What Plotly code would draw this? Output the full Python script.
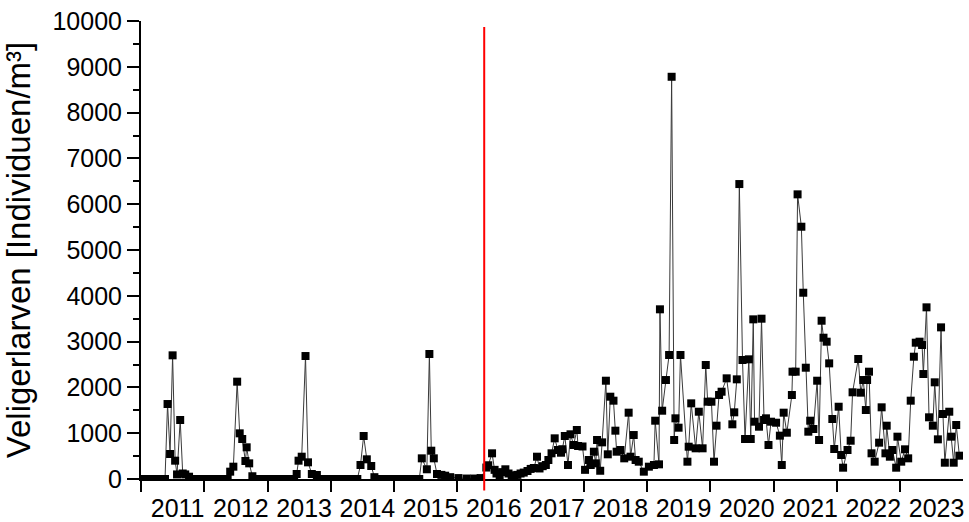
import pandas as pd
import plotly.graph_objects as go

# ---- data (decimal year of sampling, larvae per m³) ----
years_early = [
    2011.00, 2011.08, 2011.17, 2011.25, 2011.33, 2011.38,
    2011.42, 2011.46, 2011.50, 2011.54, 2011.57, 2011.62, 2011.66, 2011.70, 2011.76,
    2011.83, 2011.92, 2012.00, 2012.08, 2012.17, 2012.25, 2012.33, 2012.37,
    2012.41, 2012.46, 2012.52, 2012.56, 2012.60, 2012.65, 2012.67, 2012.71, 2012.76,
    2012.83, 2012.92, 2013.00, 2013.08, 2013.17, 2013.25, 2013.33, 2013.42,
    2013.46, 2013.49, 2013.54, 2013.60, 2013.64, 2013.70, 2013.78,
    2013.85, 2013.92, 2014.00, 2014.08, 2014.17, 2014.25, 2014.33, 2014.42,
    2014.47, 2014.52, 2014.57, 2014.64, 2014.69,
    2014.75, 2014.83, 2014.92, 2015.00, 2015.08, 2015.17, 2015.25, 2015.33, 2015.40,
    2015.44, 2015.52, 2015.56, 2015.59, 2015.63, 2015.68, 2015.75, 2015.81, 2015.89,
    2016.02, 2016.15, 2016.27, 2016.37,
]
larvae_early = [
    0, 0, 0, 0, 0, 0,
    1637, 546, 2700, 400, 100, 1288, 120, 100, 50,
    0, 0, 0, 0, 0, 0, 0, 0,
    160, 269, 2125, 997, 873, 393, 692, 342, 60,
    0, 0, 0, 0, 0, 0, 0, 0,
    109, 400, 487, 2685, 364, 109, 87,
    0, 0, 0, 0, 0, 0, 0, 0,
    306, 939, 430, 284, 40,
    0, 0, 0, 0, 0, 0, 0, 0, 0,
    451, 212, 2729, 618, 451, 109, 90, 72, 40,
    20, 10, 10, 20,
]

years_late = [
    2016.46, 2016.49, 2016.55, 2016.59, 2016.62, 2016.67, 2016.71, 2016.76, 2016.81, 2016.86,
    2016.90, 2016.95, 2017.00, 2017.05, 2017.11, 2017.16, 2017.21, 2017.26, 2017.30, 2017.35,
    2017.40, 2017.44, 2017.49, 2017.54, 2017.59, 2017.64, 2017.66, 2017.70, 2017.75, 2017.79,
    2017.84, 2017.89, 2017.91, 2017.98, 2018.02, 2018.08, 2018.11, 2018.16, 2018.19, 2018.21,
    2018.26, 2018.29, 2018.35, 2018.38, 2018.42, 2018.47, 2018.50, 2018.52, 2018.58, 2018.64,
    2018.71, 2018.74, 2018.79, 2018.82, 2018.87, 2018.95, 2019.03, 2019.11, 2019.13, 2019.19,
    2019.205, 2019.24, 2019.30, 2019.35, 2019.39, 2019.43, 2019.45, 2019.50, 2019.53, 2019.64,
    2019.66, 2019.70, 2019.77, 2019.82, 2019.88, 2019.93, 2019.96, 2020.02, 2020.06, 2020.10,
    2020.14, 2020.18, 2020.26, 2020.35, 2020.38, 2020.42, 2020.46, 2020.51, 2020.55, 2020.61,
    2020.64, 2020.68, 2020.70, 2020.77, 2020.81, 2020.85, 2020.88, 2020.92, 2020.96, 2021.04,
    2021.10, 2021.13, 2021.16, 2021.21, 2021.29, 2021.30, 2021.35, 2021.38, 2021.44, 2021.47,
    2021.51, 2021.55, 2021.58, 2021.63, 2021.69, 2021.72, 2021.76, 2021.79, 2021.84, 2021.88,
    2021.93, 2021.96, 2022.03, 2022.07, 2022.10, 2022.17, 2022.22, 2022.25, 2022.34, 2022.38,
    2022.42, 2022.46, 2022.48, 2022.51, 2022.55, 2022.60, 2022.67, 2022.71, 2022.77, 2022.79,
    2022.84, 2022.88, 2022.94, 2022.96, 2023.02, 2023.08, 2023.13, 2023.17, 2023.22, 2023.25,
    2023.31, 2023.35, 2023.37, 2023.42, 2023.46, 2023.52, 2023.55, 2023.60, 2023.65, 2023.68,
    2023.71, 2023.78, 2023.81, 2023.85, 2023.89, 2023.94,
]
larvae_late = [
    250, 300, 561, 200, 120, 80, 150, 212, 120, 80,
    60, 90, 120, 140, 175, 220, 240, 487, 230, 280,
    306, 415, 561, 888, 633, 574, 650, 939, 306, 976,
    742, 1070, 720, 710, 200, 415, 306, 596, 342, 851,
    180, 800, 2146, 539, 1797, 1710, 1055, 596, 633, 451,
    1448, 487, 960, 415, 378, 160, 269, 306, 1273, 320,
    3705, 1491, 2161, 2707, 8782, 851, 1325, 1120, 2707, 378,
    705, 1652, 670, 1469, 670, 2489, 1688, 1688, 378, 1164,
    1834, 1906, 2198, 1194, 1456, 2176, 6440, 2598, 873, 2613,
    873, 3486, 1251, 1142, 3500, 1288, 1325, 742, 1251, 1229,
    946, 306, 1448, 1011, 1834, 2343, 2343, 6215, 5508, 4067,
    2430, 1033, 1273, 1092, 2146, 851, 3456, 3085, 2998, 2525,
    1310, 655, 1578, 524, 247, 633, 836, 1893, 2620, 1885,
    2161, 1506, 2161, 2343, 561, 378, 793, 1565, 561, 1164,
    487, 633, 247, 924, 378, 648, 451, 1710, 2670, 2976,
    2998, 2925, 2292, 3748, 1347, 1164, 2111, 866, 3311, 1419,
    356, 1469, 924, 356, 1179, 509,
]

marker_date = "2016-06-05"   # red vertical line
year_ticks_start = "2011-01-01"
x_range = ["2011-01-01", "2023-12-31"]
y_range = [0, 10000]

assert len(years_early) == len(larvae_early)
assert len(years_late) == len(larvae_late)

dec_years = years_early + years_late
larvae = larvae_early + larvae_late


def to_date(d):
    y = int(d)
    start = pd.Timestamp(year=y, month=1, day=1)
    end = pd.Timestamp(year=y + 1, month=1, day=1)
    return start + (end - start) * (d - y)


dates = [to_date(d) for d in dec_years]

FONT = "Liberation Sans, Arial, sans-serif"

fig = go.Figure()
fig.add_trace(go.Scatter(
    x=dates, y=larvae, mode="lines+markers",
    line=dict(color="#3a3a3a", width=1),
    marker=dict(symbol="square", size=8, color="black", line=dict(width=0)),
    showlegend=False,
))

fig.add_shape(type="line", xref="x", yref="paper",
              x0=marker_date, x1=marker_date, y0=-0.025, y1=0.987,
              line=dict(color="#ff0000", width=2))

fig.update_layout(
    width=969, height=522,
    margin=dict(l=141, r=6, t=21, b=43),
    plot_bgcolor="white", paper_bgcolor="white",
    font=dict(family=FONT, color="black"),
)
fig.update_xaxes(
    type="date", range=x_range, automargin=False,
    tick0=year_ticks_start, dtick="M12", tickformat="%Y",
    ticklabelmode="period", ticklabelshift=5, ticklabelstandoff=-5,
    showline=True, linecolor="black", linewidth=2,
    ticks="outside", ticklen=11, tickwidth=2, tickcolor="black",
    showgrid=False, zeroline=False,
    tickfont=dict(size=25, family=FONT, color="black"),
)
fig.update_yaxes(
    range=y_range, dtick=1000, tick0=0, tickformat="d", automargin=False,
    showline=True, linecolor="black", linewidth=2,
    ticks="outside", ticklen=12, tickwidth=2, tickcolor="black",
    minor=dict(ticks="outside", ticklen=6, dtick=500, tickwidth=2, tickcolor="black", showgrid=False),
    showgrid=False, zeroline=False,
    tickfont=dict(size=25, family=FONT, color="black"),
    title=dict(text="Veligerlarven [Individuen/m³]",
               font=dict(size=33, family=FONT, color="black"), standoff=14),
)

fig.write_html(
    "out.html",
    config={"displayModeBar": False},
    post_script="document.body.style.margin='0px'; document.body.style.overflow='hidden';",
)
